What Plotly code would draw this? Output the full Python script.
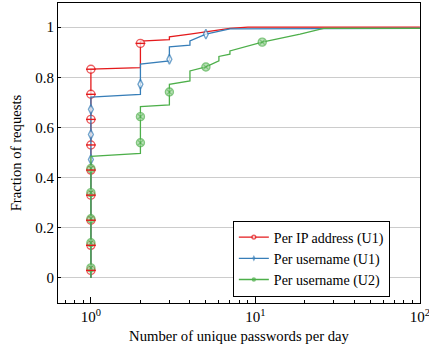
import plotly.graph_objects as go

# ---- data ----
red_x = [1, 1, 2, 2, 3, 3, 4, 5, 7, 9, 100]
red_y = [0, 0.832, 0.838, 0.944, 0.95, 0.961, 0.972, 0.982, 0.995, 1.0, 1.0]
red_mx = [1, 1, 1, 1, 1, 1, 1, 1, 1, 2]
red_my = [0.03, 0.13, 0.23, 0.33, 0.43, 0.53, 0.632, 0.732, 0.832, 0.935]

blue_x = [1, 1, 2, 2, 3, 3, 4, 4, 5, 7, 100]
blue_y = [0, 0.721, 0.732, 0.852, 0.865, 0.921, 0.928, 0.945, 0.972, 0.993, 0.995]
blue_mx = [1, 1, 1, 2, 3, 5]
blue_my = [0.472, 0.572, 0.672, 0.772, 0.872, 0.972]

green_x = [1, 1, 2, 2, 3, 3, 4, 4, 5, 6, 6, 7, 7, 11, 18.7, 26, 100]
green_y = [0, 0.485, 0.496, 0.683, 0.69, 0.772, 0.785, 0.825, 0.841, 0.865, 0.883,
           0.892, 0.905, 0.94, 0.972, 0.995, 0.995]
green_mx = [1, 1, 1, 1, 1, 2, 2, 3, 5, 11]
green_my = [0.04, 0.14, 0.236, 0.34, 0.436, 0.539, 0.643, 0.741, 0.841, 0.94]

names = ["Per IP address (U1)", "Per username (U1)", "Per username (U2)"]
y_ticks = [0, 0.2, 0.4, 0.6, 0.8, 1]
y_ticktext = ["0", "0.2", "0.4", "0.6", "0.8", "1"]
x_ticks = [1, 10, 100]
x_ticktext = ["10<sup>0</sup>", "10<sup>1</sup>", "10<sup>2</sup>"]

RED, BLUE, GREEN = "#e41a1c", "#377eb8", "#4daf4a"
FONT = "Liberation Serif, Times New Roman, serif"


def merge(lx, ly, mx, my, msize):
    pts = [(x, y, 0) for x, y in zip(lx, ly)] + [(x, y, msize) for x, y in zip(mx, my)]
    pts.sort(key=lambda p: (p[0], p[1]))
    return [p[0] for p in pts], [p[1] for p in pts], [p[2] for p in pts]


fig = go.Figure()

series = [
    (red_x, red_y, red_mx, red_my, RED, "circle", "white", 8),
    (blue_x, blue_y, blue_mx, blue_my, BLUE, "diamond-tall", "white", 7),
    (green_x, green_y, green_mx, green_my, GREEN, "circle-x", "#9fd49c", 8),
]
for (lx, ly, mx, my, col, sym, fill, ms), nm in zip(series, names):
    xs, ys, ss = merge(lx, ly, mx, my, ms)
    fig.add_trace(go.Scatter(
        x=xs, y=ys, mode="lines+markers", name=nm,
        line=dict(color=col, width=1.3),
        marker=dict(symbol=sym, size=ss, color=fill, line=dict(color=col, width=1.4)),
    ))

# red half-circle detail (horizontal bar through the red markers)
fig.add_trace(go.Scatter(
    x=red_mx, y=red_my, mode="markers", showlegend=False, hoverinfo="skip",
    marker=dict(symbol="line-ew", size=7, line=dict(color=RED, width=1.4)),
))

minor_vals = [0.7, 0.8, 0.9] + [d * m for d in (1, 10) for m in range(2, 10)]

fig.update_layout(
    width=429, height=349,
    margin=dict(l=58, r=9, t=3, b=46, autoexpand=False),
    paper_bgcolor="white", plot_bgcolor="white",
    font=dict(family=FONT, size=14, color="black"),
    showlegend=True,
    legend=dict(
        x=0.483, y=0.275, xanchor="left", yanchor="top",
        bgcolor="white", bordercolor="black", borderwidth=1,
        font=dict(family=FONT, size=14, color="black"),
        tracegroupgap=0,
    ),
    xaxis=dict(
        type="log", range=[-0.2, 2.0005], automargin=False,
        tickvals=x_ticks, ticktext=x_ticktext, ticklabeloverflow="allow",
        ticks="inside", ticklen=6, tickcolor="black",
        minor=dict(tickvals=minor_vals, ticks="inside", ticklen=3, tickcolor="black", showgrid=False),
        showgrid=False, zeroline=False,
        showline=True, linecolor="black", linewidth=1, mirror=True,
        title=dict(text="Number of unique passwords per day", font=dict(family=FONT, size=14.7), standoff=6),
        tickfont=dict(family=FONT, size=15),
    ),
    yaxis=dict(
        range=[-0.1, 1.096], automargin=False,
        tickvals=y_ticks, ticktext=y_ticktext,
        ticks="inside", ticklen=3, tickcolor="black",
        showgrid=True, gridcolor="#cccccc", gridwidth=1, zeroline=False,
        showline=True, linecolor="black", linewidth=1, mirror=True,
        title=dict(text="Fraction of requests", font=dict(family=FONT, size=14.7), standoff=10),
        tickfont=dict(family=FONT, size=15),
    ),
)

fig.write_html("out.html", config={"displayModeBar": False},
               post_script="document.body.style.margin='0';document.body.style.padding='0';")
